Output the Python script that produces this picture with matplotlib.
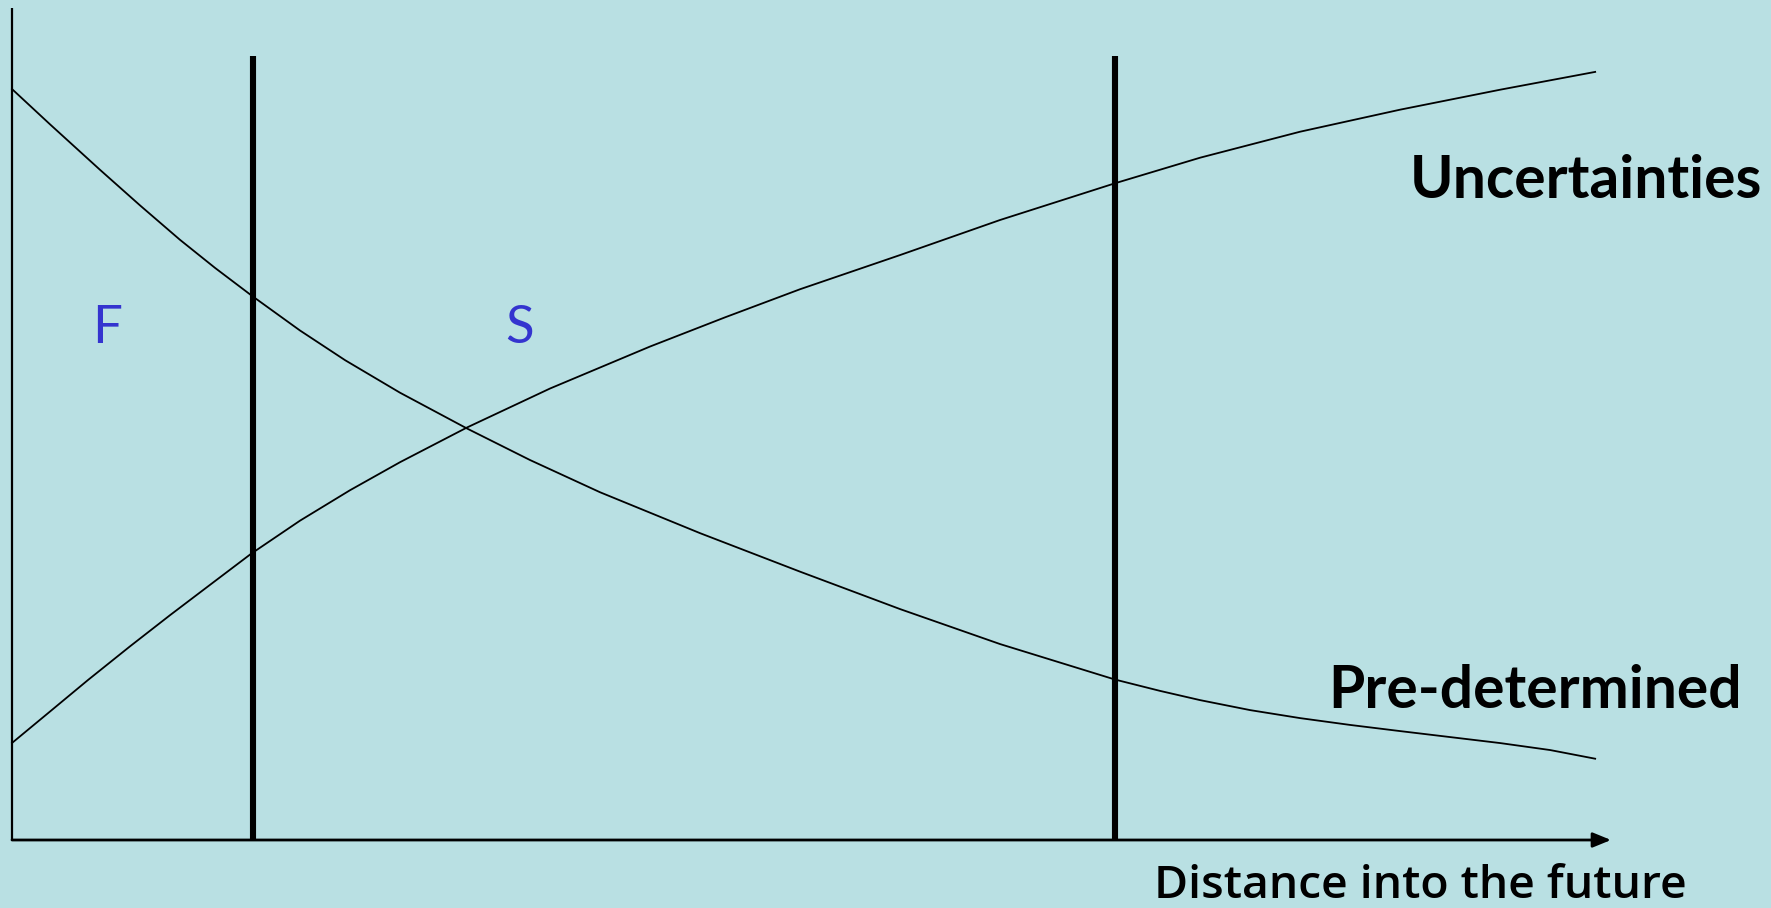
import matplotlib
matplotlib.use("Agg")
import matplotlib.pyplot as plt

# ---- data (normalised units: x 0..100 distance, y 0..100 level) ----
pre_x = [0, 2.40, 5.56, 8.09, 10.61, 12.82, 15.16, 18.19, 21.04, 24.51, 28.74, 32.72, 37.14,
         43.46, 49.78, 56.10, 62.41, 69.68, 72.52, 75.05, 78.21, 81.36, 84.52, 87.68, 90.84,
         94.00, 97.16, 100]
pre_y = [90.26, 86.02, 80.55, 76.27, 72.14, 68.77, 65.40, 61.24, 57.67, 53.76, 49.46, 45.67, 41.80,
         36.88, 32.25, 27.75, 23.55, 19.28, 17.92, 16.81, 15.61, 14.65, 13.83, 13.09, 12.37,
         11.65, 10.81, 9.77]

unc_x = [0, 2.40, 4.80, 7.45, 9.98, 12.51, 15.10, 18.19, 21.35, 24.51, 28.74, 33.99, 40.30,
         45.04, 49.78, 56.10, 62.41, 69.68, 75.05, 81.36, 87.68, 94.00, 100]
unc_y = [11.66, 15.44, 19.23, 23.27, 27.02, 30.67, 34.40, 38.38, 42.04, 45.41, 49.58, 54.27, 59.31,
         62.82, 66.20, 70.31, 74.52, 78.94, 82.01, 85.13, 87.78, 90.18, 92.32]

boundaries_x = [15.2, 69.7]
boundary_top = 94.2

region_labels = ["F", "S"]
series_labels = ["Uncertainties", "Pre-determined"]
x_label = "Distance into the future"

BG = "#B9E0E3"
W, H = 1771, 908
fig = plt.figure(figsize=(W / 100, H / 100), dpi=100, facecolor=BG)
ax = fig.add_axes([12 / W, 68 / H, 1599 / W, 832 / H])
ax.set_xlim(0, 101)
ax.set_ylim(0, 100)
ax.set_facecolor("none")
ax.axis("off")

# axes lines
ax.plot([0, 0], [0, 100], color="black", lw=1.6, clip_on=False, solid_capstyle="butt")
ax.annotate("", xy=(101, 0), xytext=(0, 0),
            arrowprops=dict(arrowstyle="-|>,head_length=1.1,head_width=0.45", color="black", lw=2.0,
                            shrinkA=0, shrinkB=0), annotation_clip=False)

# curves
ax.plot(pre_x, pre_y, color="black", lw=1.3, clip_on=False, solid_joinstyle="round")
ax.plot(unc_x, unc_y, color="black", lw=1.3, clip_on=False, solid_joinstyle="round")

# vertical boundaries
for bx in boundaries_x:
    ax.plot([bx, bx], [0, boundary_top], color="black", lw=4.4, clip_on=False, solid_capstyle="butt")

fig.canvas.draw()
renderer = fig.canvas.get_renderer()


def fit_text(x0, x1, ybase, s, size, **kw):
    t = fig.text(x0 / W, 1 - ybase / H, s, fontsize=size, ha="left", va="baseline", **kw)
    bb = t.get_window_extent(renderer)
    t.set_fontsize(size * (x1 - x0) / bb.width)
    return t


fit_text(1410, 1762, 198, series_labels[0], 38, family="Lato", fontweight="bold", color="black")
fit_text(1328, 1742, 708, series_labels[1], 38, family="Lato", fontweight="bold", color="black")
fit_text(1154, 1686, 898, x_label, 30, family="Open Sans", fontweight="semibold", color="black")

blue = "#3434CF"
fig.text(107 / W, 1 - 343 / H, region_labels[0], fontsize=38, family="Lato", color=blue,
         ha="center", va="baseline")
fig.text(519.5 / W, 1 - 343 / H, region_labels[1], fontsize=38, family="Lato", color=blue,
         ha="center", va="baseline")

fig.savefig("out.png", dpi=100, facecolor=BG)
